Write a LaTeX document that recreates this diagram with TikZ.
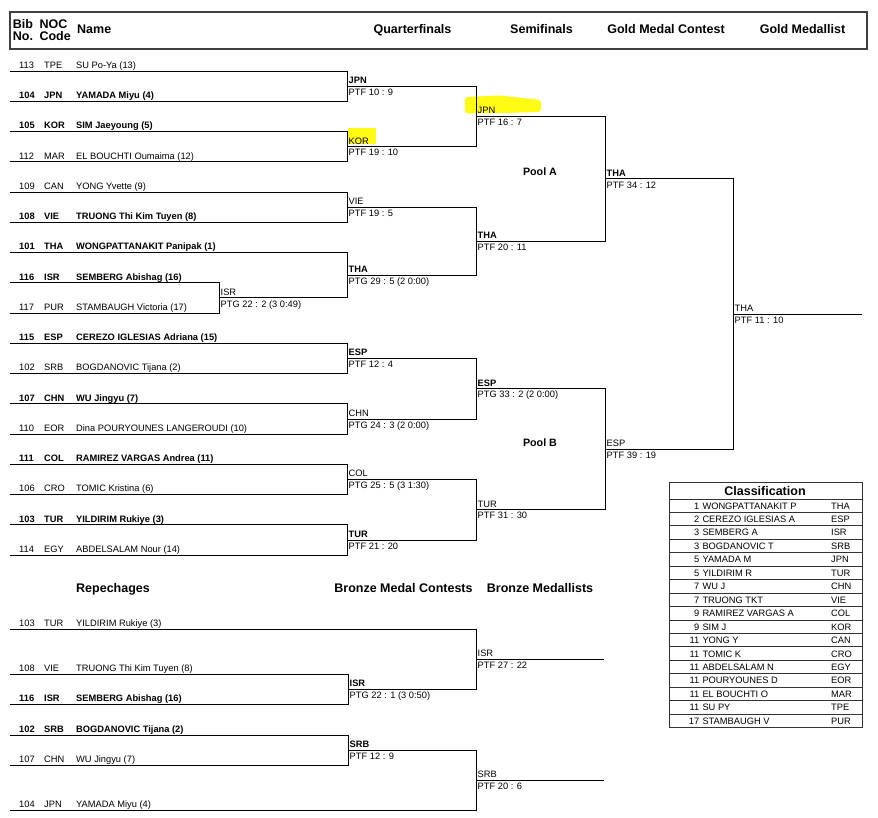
\documentclass[tikz,border=0pt]{standalone}
\usepackage{fontspec}
\setmainfont{Liberation Sans}
\definecolor{hl}{RGB}{255,250,20}
\tikzset{
  txt/.style={inner sep=0pt, anchor=base west, font=\fontsize{9.3}{11}\selectfont},
  txtb/.style={txt, font=\fontsize{9.3}{11}\selectfont\bfseries},
  head/.style={inner sep=0pt, anchor=base, font=\fontsize{12.5}{15}\selectfont\bfseries},
  pool/.style={inner sep=0pt, anchor=base, font=\fontsize{10.7}{13}\selectfont\bfseries},
  wire/.style={line width=0.8pt},
  hbox/.style={draw=black!75, line width=1.1pt},
  tabline/.style={draw=black!80, line width=1pt},
  hilite/.style={fill=hl}
}
\begin{document}
\begin{tikzpicture}[x=1pt, y=-1pt]
\useasboundingbox (0,0) rectangle (878,818);

% marker strokes
\fill[hilite] (348,128) rectangle (376,144);
\fill[hilite, rounded corners=3pt] (465,97) -- (500,95.5) -- (541,100) -- (541,112) -- (500,113) -- (465,113.5) -- cycle;

% header
\draw[hbox] (10,12) rectangle (867,49);
\node[head, anchor=base west] at (12.7, 28.3) (bib) {Bib};
\node[head, anchor=base west] at (12.7, 41) (no) {No.};
\node[head, anchor=base west] at (39.3, 28.3) (noc) {NOC};
\node[head, anchor=base west] at (39.3, 41) (code) {Code};
\node[head, anchor=base west] at (77, 34) (name) {Name};
\node[head] at (412.5, 34) (quarter) {Quarterfinals};
\node[head] at (541.5, 34) (semi) {Semifinals};
\node[head] at (666, 34) (goldc) {Gold Medal Contest};
\node[head] at (802.5, 34) (goldm) {Gold Medallist};

% entries
\node[txt] at (19, 68.4) (b1) {113};
\node[txt] at (44, 68.4) (c1) {TPE};
\node[txt] at (76, 68.4) (n1) {SU Po-Ya (13)};
\node[txtb] at (19, 98.7) (b2) {104};
\node[txtb] at (44, 98.7) (c2) {JPN};
\node[txtb] at (76, 98.7) (n2) {YAMADA Miyu (4)};
\node[txtb] at (19, 128.9) (b3) {105};
\node[txtb] at (44, 128.9) (c3) {KOR};
\node[txtb] at (76, 128.9) (n3) {SIM Jaeyoung (5)};
\node[txt] at (19, 159.2) (b4) {112};
\node[txt] at (44, 159.2) (c4) {MAR};
\node[txt] at (76, 159.2) (n4) {EL BOUCHTI Oumaima (12)};
\node[txt] at (19, 189.4) (b5) {109};
\node[txt] at (44, 189.4) (c5) {CAN};
\node[txt] at (76, 189.4) (n5) {YONG Yvette (9)};
\node[txtb] at (19, 219.7) (b6) {108};
\node[txtb] at (44, 219.7) (c6) {VIE};
\node[txtb] at (76, 219.7) (n6) {TRUONG Thi Kim Tuyen (8)};
\node[txtb] at (19, 249.9) (b7) {101};
\node[txtb] at (44, 249.9) (c7) {THA};
\node[txtb] at (76, 249.9) (n7) {WONGPATTANAKIT Panipak (1)};
\node[txtb] at (19, 280.2) (b8) {116};
\node[txtb] at (44, 280.2) (c8) {ISR};
\node[txtb] at (76, 280.2) (n8) {SEMBERG Abishag (16)};
\node[txt] at (19, 310.4) (b9) {117};
\node[txt] at (44, 310.4) (c9) {PUR};
\node[txt] at (76, 310.4) (n9) {STAMBAUGH Victoria (17)};
\node[txtb] at (19, 340.7) (b10) {115};
\node[txtb] at (44, 340.7) (c10) {ESP};
\node[txtb] at (76, 340.7) (n10) {CEREZO IGLESIAS Adriana (15)};
\node[txt] at (19, 370.9) (b11) {102};
\node[txt] at (44, 370.9) (c11) {SRB};
\node[txt] at (76, 370.9) (n11) {BOGDANOVIC Tijana (2)};
\node[txtb] at (19, 401.2) (b12) {107};
\node[txtb] at (44, 401.2) (c12) {CHN};
\node[txtb] at (76, 401.2) (n12) {WU Jingyu (7)};
\node[txt] at (19, 431.4) (b13) {110};
\node[txt] at (44, 431.4) (c13) {EOR};
\node[txt] at (76, 431.4) (n13) {Dina POURYOUNES LANGEROUDI (10)};
\node[txtb] at (19, 461.7) (b14) {111};
\node[txtb] at (44, 461.7) (c14) {COL};
\node[txtb] at (76, 461.7) (n14) {RAMIREZ VARGAS Andrea (11)};
\node[txt] at (19, 491.9) (b15) {106};
\node[txt] at (44, 491.9) (c15) {CRO};
\node[txt] at (76, 491.9) (n15) {TOMIC Kristina (6)};
\node[txtb] at (19, 522.2) (b16) {103};
\node[txtb] at (44, 522.2) (c16) {TUR};
\node[txtb] at (76, 522.2) (n16) {YILDIRIM Rukiye (3)};
\node[txt] at (19, 552.4) (b17) {114};
\node[txt] at (44, 552.4) (c17) {EGY};
\node[txt] at (76, 552.4) (n17) {ABDELSALAM Nour (14)};

\coordinate (l1) at (10, 71);
\coordinate (l2) at (10, 101.3);
\coordinate (l3) at (10, 131.5);
\coordinate (l4) at (10, 161.8);
\coordinate (l5) at (10, 192);
\coordinate (l6) at (10, 222.3);
\coordinate (l7) at (10, 252.5);
\coordinate (l8) at (10, 282.8);
\coordinate (l9) at (10, 313);
\coordinate (l10) at (10, 343.3);
\coordinate (l11) at (10, 373.5);
\coordinate (l12) at (10, 403.8);
\coordinate (l13) at (10, 434);
\coordinate (l14) at (10, 464.3);
\coordinate (l15) at (10, 494.5);
\coordinate (l16) at (10, 524.8);
\coordinate (l17) at (10, 555);

% first round and quarterfinals
\coordinate (r1) at (219, 297.9);
\coordinate (qf1) at (347, 86.15);
\coordinate (qf2) at (347, 146.65);
\coordinate (qf3) at (347, 207.15);
\coordinate (qf4) at (347, 275.2);
\coordinate (qf5) at (347, 358.4);
\coordinate (qf6) at (347, 418.9);
\coordinate (qf7) at (347, 479.4);
\coordinate (qf8) at (347, 539.9);
\node[txt] at (220.5, 295.4) (r1w) {ISR};
\node[txt] at (220.5, 307.2) (r1s) {PTG 22 : 2 (3 0:49)};
\node[txtb] at (348.5, 83.65) (qf1w) {JPN};
\node[txt] at (348.5, 95.45) (qf1s) {PTF 10 : 9};
\node[txt] at (348.5, 144.15) (qf2w) {KOR};
\node[txt] at (348.5, 155.95) (qf2s) {PTF 19 : 10};
\node[txt] at (348.5, 204.65) (qf3w) {VIE};
\node[txt] at (348.5, 216.45) (qf3s) {PTF 19 : 5};
\node[txtb] at (348.5, 272.7) (qf4w) {THA};
\node[txt] at (348.5, 284.5) (qf4s) {PTG 29 : 5 (2 0:00)};
\node[txtb] at (348.5, 355.9) (qf5w) {ESP};
\node[txt] at (348.5, 367.7) (qf5s) {PTF 12 : 4};
\node[txt] at (348.5, 416.4) (qf6w) {CHN};
\node[txt] at (348.5, 428.2) (qf6s) {PTG 24 : 3 (2 0:00)};
\node[txt] at (348.5, 476.9) (qf7w) {COL};
\node[txt] at (348.5, 488.7) (qf7s) {PTG 25 : 5 (3 1:30)};
\node[txtb] at (348.5, 537.4) (qf8w) {TUR};
\node[txt] at (348.5, 549.2) (qf8s) {PTF 21 : 20};

% semifinals
\coordinate (sf1) at (476, 116.4);
\coordinate (sf2) at (476, 241.2);
\coordinate (sf3) at (476, 388.65);
\coordinate (sf4) at (476, 509.65);
\node[txt] at (477.5, 113.9) (sf1w) {JPN};
\node[txt] at (477.5, 125.7) (sf1s) {PTF 16 : 7};
\node[txtb] at (477.5, 238.7) (sf2w) {THA};
\node[txt] at (477.5, 250.5) (sf2s) {PTF 20 : 11};
\node[txtb] at (477.5, 386.15) (sf3w) {ESP};
\node[txt] at (477.5, 397.95) (sf3s) {PTG 33 : 2 (2 0:00)};
\node[txt] at (477.5, 507.15) (sf4w) {TUR};
\node[txt] at (477.5, 518.95) (sf4s) {PTF 31 : 30};
\node[pool] at (540, 176) (poola) {Pool A};
\node[pool] at (540, 446.5) (poolb) {Pool B};

% gold medal contest
\coordinate (fin1) at (605, 178.8);
\coordinate (fin2) at (605, 449.15);
\coordinate (gold) at (733, 313.97);
\coordinate (goldend) at (862, 313.97);
\node[txtb] at (606.5, 176.3) (fin1w) {THA};
\node[txt] at (606.5, 188.1) (fin1s) {PTF 34 : 12};
\node[txt] at (606.5, 446.65) (fin2w) {ESP};
\node[txt] at (606.5, 458.45) (fin2s) {PTF 39 : 19};
\node[txt] at (734.5, 311.47) (goldw) {THA};
\node[txt] at (734.5, 323.27) (golds) {PTF 11 : 10};

\draw[wire] (l1) -| (qf1);
\draw[wire] (l2) -| (qf1);
\draw[wire] (l3) -| (qf2);
\draw[wire] (l4) -| (qf2);
\draw[wire] (l5) -| (qf3);
\draw[wire] (l6) -| (qf3);
\draw[wire] (l7) -| (qf4);
\draw[wire] (l8) -| (r1);
\draw[wire] (l9) -| (r1);
\draw[wire] (r1) -| (qf4);
\draw[wire] (l10) -| (qf5);
\draw[wire] (l11) -| (qf5);
\draw[wire] (l12) -| (qf6);
\draw[wire] (l13) -| (qf6);
\draw[wire] (l14) -| (qf7);
\draw[wire] (l15) -| (qf7);
\draw[wire] (l16) -| (qf8);
\draw[wire] (l17) -| (qf8);
\draw[wire] (qf1) -| (sf1);
\draw[wire] (qf2) -| (sf1);
\draw[wire] (qf3) -| (sf2);
\draw[wire] (qf4) -| (sf2);
\draw[wire] (qf5) -| (sf3);
\draw[wire] (qf6) -| (sf3);
\draw[wire] (qf7) -| (sf4);
\draw[wire] (qf8) -| (sf4);
\draw[wire] (sf1) -| (fin1);
\draw[wire] (sf2) -| (fin1);
\draw[wire] (sf3) -| (fin2);
\draw[wire] (sf4) -| (fin2);
\draw[wire] (fin1) -| (gold);
\draw[wire] (fin2) -| (gold);
\draw[wire] (gold) -- (goldend);

% repechages
\node[head, anchor=base west] at (76, 592) (repe) {Repechages};
\node[head] at (403.5, 592) (bronc) {Bronze Medal Contests};
\node[head] at (540, 592) (bronm) {Bronze Medallists};
\node[txt] at (19, 626.5) (ba) {103};
\node[txt] at (44, 626.5) (ca) {TUR};
\node[txt] at (76, 626.5) (na) {YILDIRIM Rukiye (3)};
\node[txt] at (19, 671.5) (bb) {108};
\node[txt] at (44, 671.5) (cb) {VIE};
\node[txt] at (76, 671.5) (nb) {TRUONG Thi Kim Tuyen (8)};
\node[txtb] at (19, 701.5) (bc) {116};
\node[txtb] at (44, 701.5) (cc) {ISR};
\node[txtb] at (76, 701.5) (nc) {SEMBERG Abishag (16)};
\node[txtb] at (19, 732.5) (bd) {102};
\node[txtb] at (44, 732.5) (cd) {SRB};
\node[txtb] at (76, 732.5) (nd) {BOGDANOVIC Tijana (2)};
\node[txt] at (19, 762.5) (be) {107};
\node[txt] at (44, 762.5) (ce) {CHN};
\node[txt] at (76, 762.5) (ne) {WU Jingyu (7)};
\node[txt] at (19, 807.5) (bf) {104};
\node[txt] at (44, 807.5) (cf) {JPN};
\node[txt] at (76, 807.5) (nf) {YAMADA Miyu (4)};
\coordinate (la) at (10, 629);
\coordinate (lb) at (10, 674);
\coordinate (lc) at (10, 704);
\coordinate (ld) at (10, 735);
\coordinate (le) at (10, 765);
\coordinate (lf) at (10, 810);
\coordinate (rep1) at (348, 689);
\coordinate (rep2) at (348, 750);
\coordinate (br1) at (476, 659);
\coordinate (br2) at (476, 780);
\coordinate (br1end) at (604, 659);
\coordinate (br2end) at (604, 780);
\node[txtb] at (349.5, 686.5) (rep1w) {ISR};
\node[txt] at (349.5, 698.3) (rep1s) {PTG 22 : 1 (3 0:50)};
\node[txtb] at (349.5, 747.5) (rep2w) {SRB};
\node[txt] at (349.5, 759.3) (rep2s) {PTF 12 : 9};
\node[txt] at (477.5, 656.5) (br1w) {ISR};
\node[txt] at (477.5, 668.3) (br1s) {PTF 27 : 22};
\node[txt] at (477.5, 777.5) (br2w) {SRB};
\node[txt] at (477.5, 789.3) (br2s) {PTF 20 : 6};
\draw[wire] (la) -| (br1);
\draw[wire] (lb) -| (rep1);
\draw[wire] (lc) -| (rep1);
\draw[wire] (rep1) -| (br1);
\draw[wire] (br1) -- (br1end);
\draw[wire] (ld) -| (rep2);
\draw[wire] (le) -| (rep2);
\draw[wire] (rep2) -| (br2);
\draw[wire] (lf) -| (br2);
\draw[wire] (br2) -- (br2end);

% classification
\draw[tabline] (669,482) rectangle (862,727.65);
\node[head] at (765, 495) (cls) {Classification};
\draw[tabline] (669,499) -- (862,499);
\draw[tabline] (669,512.45) -- (862,512.45);
\draw[tabline] (669,525.9) -- (862,525.9);
\draw[tabline] (669,539.35) -- (862,539.35);
\draw[tabline] (669,552.8) -- (862,552.8);
\draw[tabline] (669,566.25) -- (862,566.25);
\draw[tabline] (669,579.7) -- (862,579.7);
\draw[tabline] (669,593.15) -- (862,593.15);
\draw[tabline] (669,606.6) -- (862,606.6);
\draw[tabline] (669,620.05) -- (862,620.05);
\draw[tabline] (669,633.5) -- (862,633.5);
\draw[tabline] (669,646.95) -- (862,646.95);
\draw[tabline] (669,660.4) -- (862,660.4);
\draw[tabline] (669,673.85) -- (862,673.85);
\draw[tabline] (669,687.3) -- (862,687.3);
\draw[tabline] (669,700.75) -- (862,700.75);
\draw[tabline] (669,714.2) -- (862,714.2);
\node[txt, anchor=base east] at (699.5, 509.05) (k1) {1};
\node[txt] at (702.3, 509.05) (m1) {WONGPATTANAKIT P};
\node[txt] at (831, 509.05) (o1) {THA};
\node[txt, anchor=base east] at (699.5, 522.5) (k2) {2};
\node[txt] at (702.3, 522.5) (m2) {CEREZO IGLESIAS A};
\node[txt] at (831, 522.5) (o2) {ESP};
\node[txt, anchor=base east] at (699.5, 535.95) (k3) {3};
\node[txt] at (702.3, 535.95) (m3) {SEMBERG A};
\node[txt] at (831, 535.95) (o3) {ISR};
\node[txt, anchor=base east] at (699.5, 549.4) (k4) {3};
\node[txt] at (702.3, 549.4) (m4) {BOGDANOVIC T};
\node[txt] at (831, 549.4) (o4) {SRB};
\node[txt, anchor=base east] at (699.5, 562.85) (k5) {5};
\node[txt] at (702.3, 562.85) (m5) {YAMADA M};
\node[txt] at (831, 562.85) (o5) {JPN};
\node[txt, anchor=base east] at (699.5, 576.3) (k6) {5};
\node[txt] at (702.3, 576.3) (m6) {YILDIRIM R};
\node[txt] at (831, 576.3) (o6) {TUR};
\node[txt, anchor=base east] at (699.5, 589.75) (k7) {7};
\node[txt] at (702.3, 589.75) (m7) {WU J};
\node[txt] at (831, 589.75) (o7) {CHN};
\node[txt, anchor=base east] at (699.5, 603.2) (k8) {7};
\node[txt] at (702.3, 603.2) (m8) {TRUONG TKT};
\node[txt] at (831, 603.2) (o8) {VIE};
\node[txt, anchor=base east] at (699.5, 616.65) (k9) {9};
\node[txt] at (702.3, 616.65) (m9) {RAMIREZ VARGAS A};
\node[txt] at (831, 616.65) (o9) {COL};
\node[txt, anchor=base east] at (699.5, 630.1) (k10) {9};
\node[txt] at (702.3, 630.1) (m10) {SIM J};
\node[txt] at (831, 630.1) (o10) {KOR};
\node[txt, anchor=base east] at (699.5, 643.55) (k11) {11};
\node[txt] at (702.3, 643.55) (m11) {YONG Y};
\node[txt] at (831, 643.55) (o11) {CAN};
\node[txt, anchor=base east] at (699.5, 657) (k12) {11};
\node[txt] at (702.3, 657) (m12) {TOMIC K};
\node[txt] at (831, 657) (o12) {CRO};
\node[txt, anchor=base east] at (699.5, 670.45) (k13) {11};
\node[txt] at (702.3, 670.45) (m13) {ABDELSALAM N};
\node[txt] at (831, 670.45) (o13) {EGY};
\node[txt, anchor=base east] at (699.5, 683.9) (k14) {11};
\node[txt] at (702.3, 683.9) (m14) {POURYOUNES D};
\node[txt] at (831, 683.9) (o14) {EOR};
\node[txt, anchor=base east] at (699.5, 697.35) (k15) {11};
\node[txt] at (702.3, 697.35) (m15) {EL BOUCHTI O};
\node[txt] at (831, 697.35) (o15) {MAR};
\node[txt, anchor=base east] at (699.5, 710.8) (k16) {11};
\node[txt] at (702.3, 710.8) (m16) {SU PY};
\node[txt] at (831, 710.8) (o16) {TPE};
\node[txt, anchor=base east] at (699.5, 724.25) (k17) {17};
\node[txt] at (702.3, 724.25) (m17) {STAMBAUGH V};
\node[txt] at (831, 724.25) (o17) {PUR};
\end{tikzpicture}
\end{document}
